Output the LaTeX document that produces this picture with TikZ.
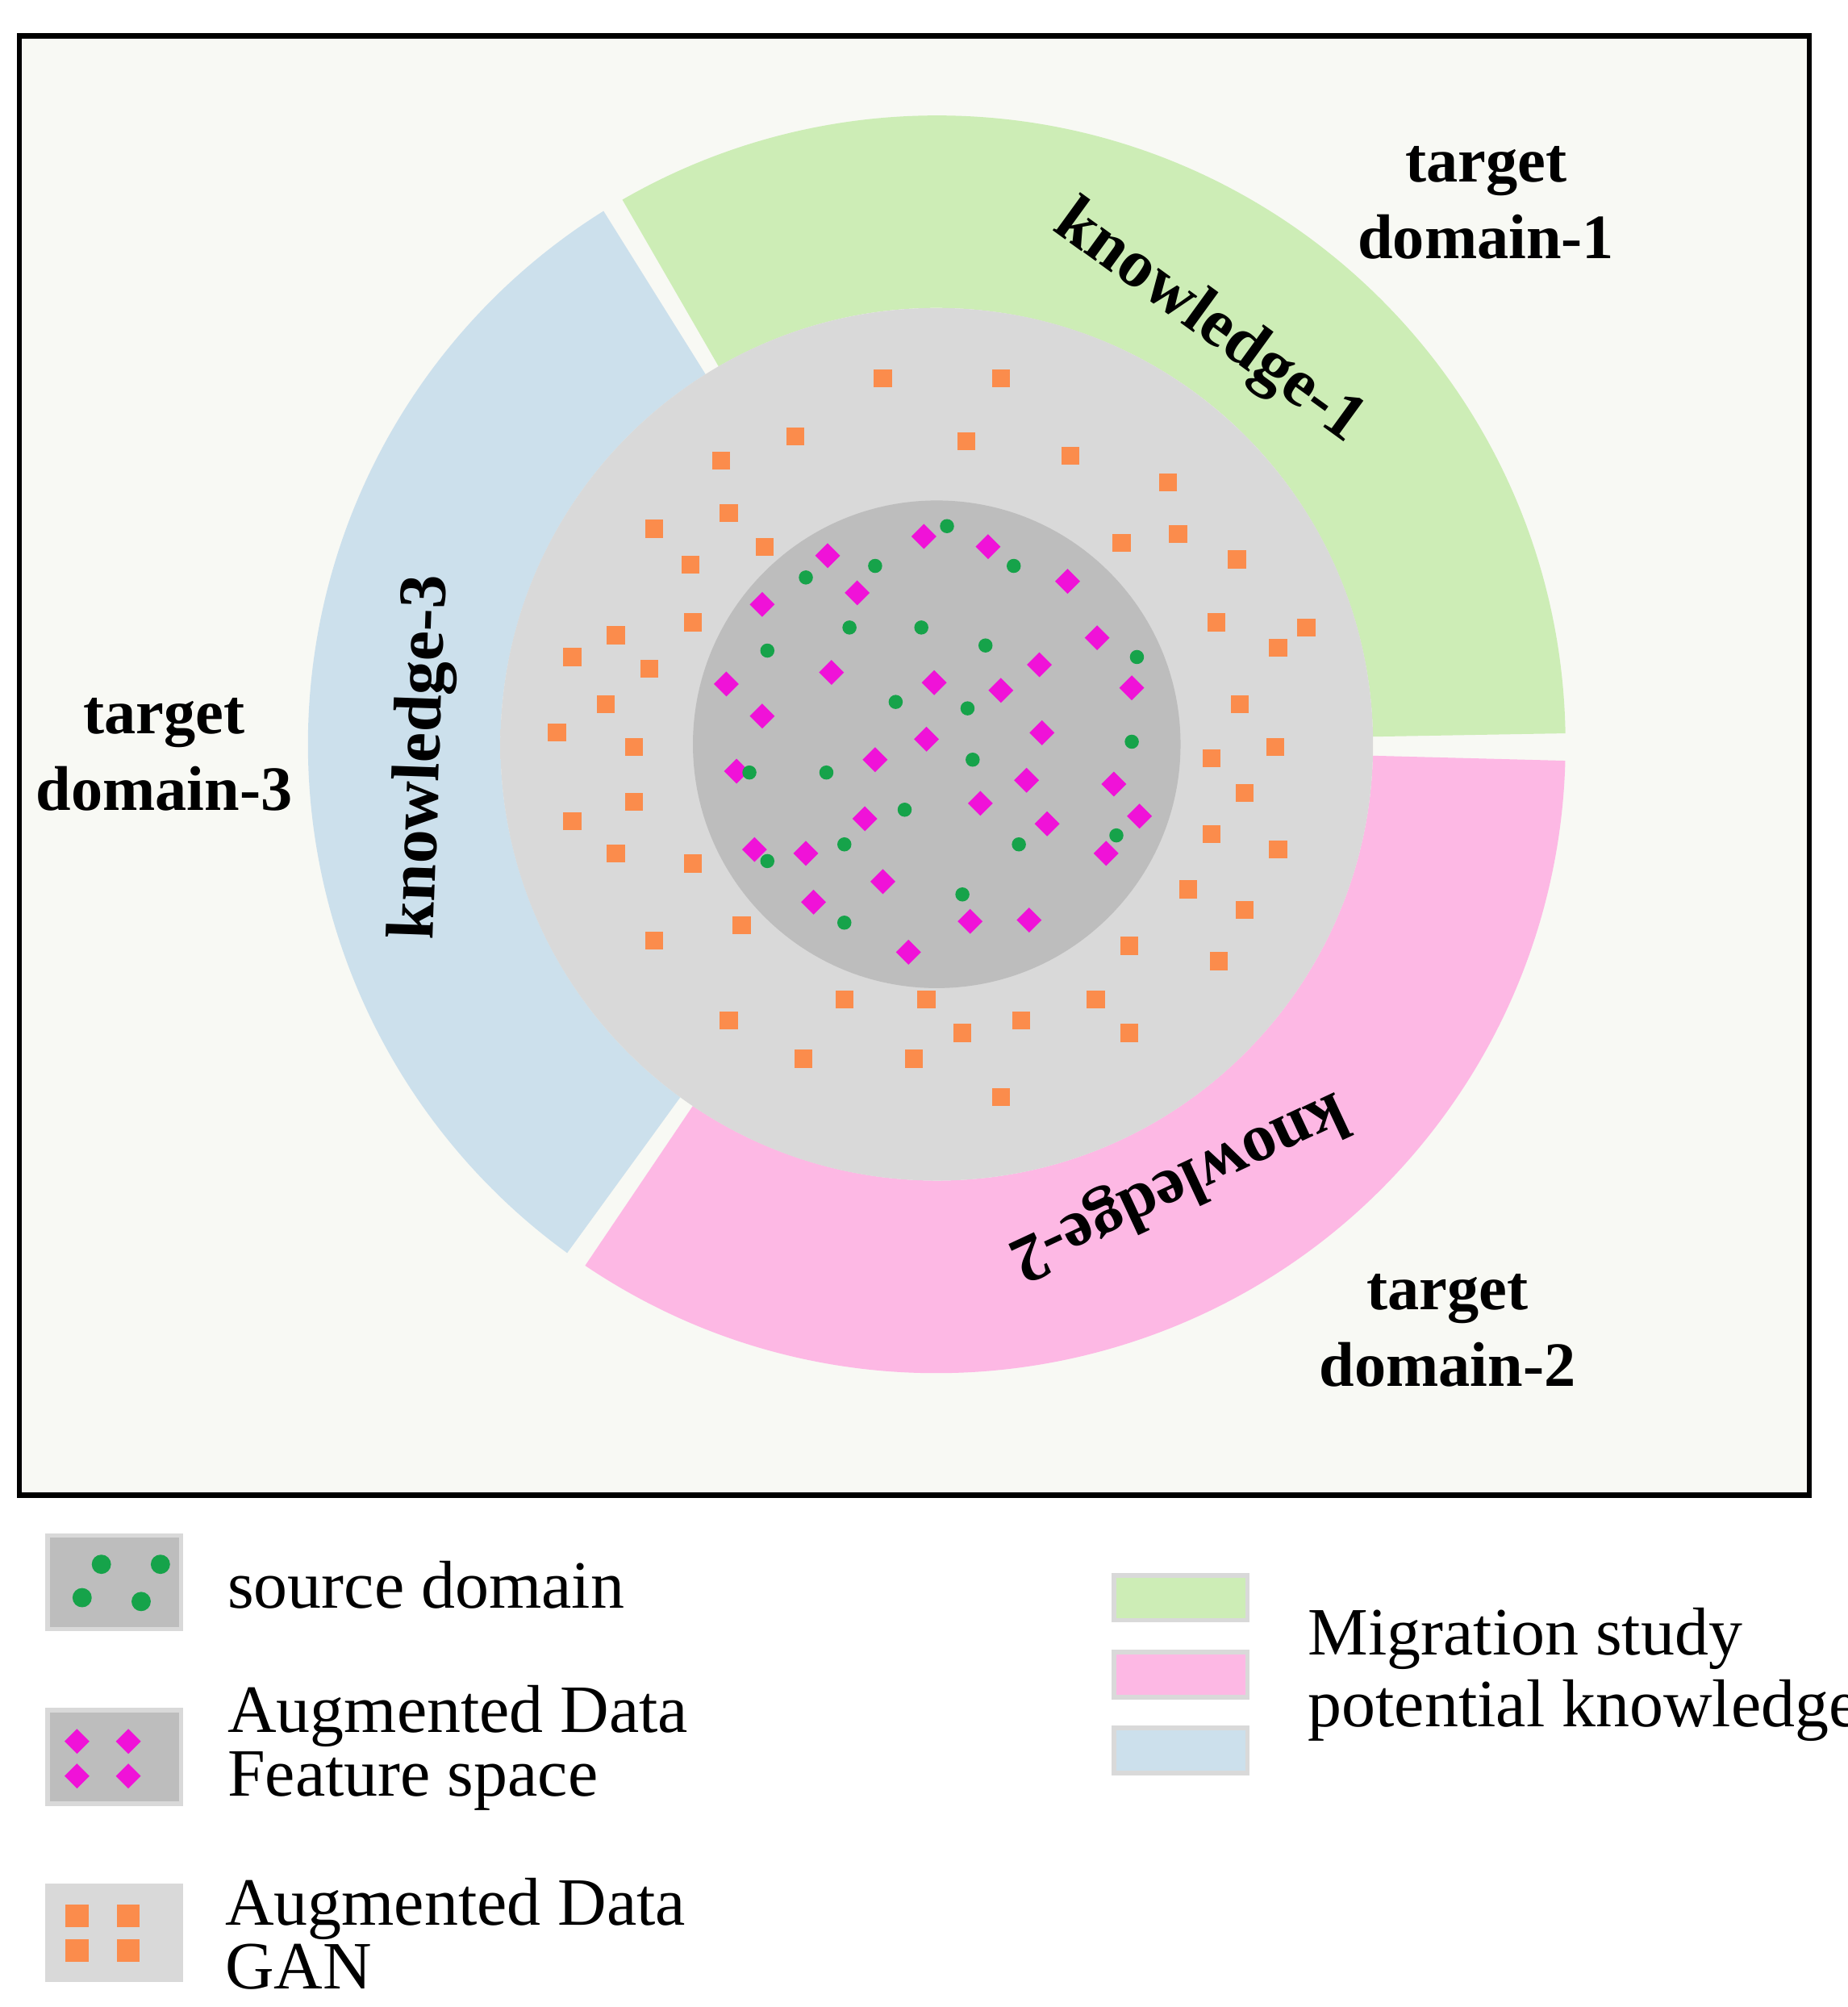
\documentclass[tikz,border=0pt]{standalone}
\usepackage{fontspec}
\setmainfont{Liberation Serif}
\usetikzlibrary{positioning,calc,shapes.geometric}
\definecolor{bgpaper}{HTML}{F8F9F4}
\definecolor{dgray}{HTML}{BDBDBD}
\definecolor{lgray}{HTML}{D9D9D9}
\definecolor{kgreen}{HTML}{CDEDB6}
\definecolor{kpink}{HTML}{FDB8E4}
\definecolor{kblue}{HTML}{CCE0EC}
\definecolor{dotgreen}{HTML}{16A34A}
\definecolor{dmagenta}{HTML}{F012D8}
\definecolor{sorange}{HTML}{FB8C4C}
\pgfdeclareradialshading{softdisk}{\pgfpoint{0bp}{0bp}}{color(0bp)=(lgray); color(43bp)=(lgray); color(47.5bp)=(bgpaper); color(50bp)=(bgpaper)}
\begin{document}
\begin{tikzpicture}[x=0.01cm,y=-0.01cm,
dot/.style={circle,fill=dotgreen,inner sep=0pt,minimum size=0.11cm},
dia/.style={diamond,fill=dmagenta,inner sep=0pt,minimum size=0.2cm},
sq/.style={rectangle,fill=sorange,inner sep=0pt,minimum size=0.14cm},
tlabel/.style={font=\fontsize{14}{17}\selectfont\bfseries,align=center},
klabel/.style={font=\fontsize{15}{18}\selectfont\bfseries},
legtext/.style={font=\fontsize{15}{17}\selectfont,anchor=west,align=left},
legbox/.style={draw=white!85!black,line width=1pt,minimum width=1.04cm,minimum height=0.73cm,inner sep=0pt}
]
\useasboundingbox (0,0) rectangle (1440,1564);
%% frame
\draw[fill=bgpaper,line width=1.2pt] (15,28) rectangle (1410,1165);
\coordinate (c) at (730,580);
%% knowledge ring
\fill[kgreen] (c) ++(-1:490) arc[start angle=-1,end angle=-120,radius=490] -- ($(c)+(-120:340)$) arc[start angle=-120,end angle=-1,radius=340] -- cycle;
\fill[kblue] (c) ++(-122:490) arc[start angle=-122,end angle=-234,radius=490] -- ($(c)+(-234:340)$) arc[start angle=-234,end angle=-122,radius=340] -- cycle;
\fill[kpink] (c) ++(-236:490) arc[start angle=-236,end angle=-358.5,radius=490] -- ($(c)+(-358.5:340)$) arc[start angle=-358.5,end angle=-236,radius=340] -- cycle;
%% data disks
\shade[shading=softdisk] (c) circle[radius=340];
\fill[dgray] (c) circle[radius=190];
%% GAN samples
\foreach \p [count=\i] in {(688,295),(780,295),(620,340),(562,359),(753,344),(834,355),(910,376),(568,400),(510,412),(596,426),(538,440),(874,423),(918,416),(964,436),(540,485),(480,495),(446,512),(506,521),(948,485),(996,505),(1018,489),(472,549),(966,549),(434,571),(494,582),(994,582),(944,591),(970,618),(494,625),(446,640),(944,650),(996,662),(480,665),(540,673),(926,693),(970,709),(510,733),(578,721),(880,737),(950,749),(658,779),(722,779),(854,779),(568,795),(750,805),(796,795),(880,805),(626,825),(712,825),(780,855)}
  \node[sq] (s\i) at \p {};
%% feature space samples
\foreach \p [count=\i] in {(720,418),(770,426),(645,433),(668,462),(832,453),(594,471),(855,497),(648,524),(728,532),(810,518),(780,538),(882,536),(566,533),(594,558),(812,571),(722,576),(682,592),(574,601),(868,611),(800,608),(764,626),(674,638),(888,636),(816,642),(588,662),(628,665),(862,665),(688,687),(634,703),(756,718),(802,717),(708,742)}
  \node[dia] (d\i) at \p {};
%% source samples
\foreach \p [count=\i] in {(738,410),(682,441),(628,450),(790,441),(662,489),(718,489),(768,503),(598,507),(886,512),(698,547),(754,552),(882,578),(584,602),(644,602),(758,592),(705,631),(658,658),(794,658),(870,651),(598,671),(750,697),(658,719)}
  \node[dot] (g\i) at \p {};
%% ring labels
\node[klabel,rotate=-36] (k1) at (942,252) {knowledge-1};
\node[klabel,rotate=-155] (k2) at (918,922) {knowledge-2};
\node[klabel,rotate=88] (k3) at (330,590) {knowledge-3};
\node[tlabel] (t1) at (1158,158) {target\\domain-1};
\node[tlabel] (t2) at (1128,1037) {target\\domain-2};
\node[tlabel] (t3) at (128,588) {target\\domain-3};
%% legend left
\node[legbox,fill=dgray] (b1) at (89,1233) {};
\foreach \dx/\dy [count=\i] in {-10/-14,36/-14,-25/12,21/15} \node[dot,minimum size=0.15cm] (bg\i) at ($(b1)+(\dx,\dy)$) {};
\node[legtext] (l1) at (165,1235) {source domain};
\node[legbox,fill=dgray] (b2) at (89,1369) {};
\foreach \dx/\dy [count=\i] in {-29/-12,11/-12,-29/15,11/15} \node[dia] (bd\i) at ($(b2)+(\dx,\dy)$) {};
\node[legtext] (l2) at (165,1362) {Augmented Data\\[-3pt]Feature space};
\node[legbox,fill=lgray] (b3) at (89,1506) {};
\foreach \dx/\dy [count=\i] in {-29/-13,11/-13,-29/14,11/14} \node[sq,minimum size=0.18cm] (bs\i) at ($(b3)+(\dx,\dy)$) {};
\node[legtext] (l3) at (163,1507) {Augmented Data\\[-3pt]GAN};
%% legend right
\node[legbox,fill=kgreen,minimum height=0.35cm] (r1) at (920,1245) {};
\node[legbox,fill=kpink,minimum height=0.35cm] (r2) at (920,1305) {};
\node[legbox,fill=kblue,minimum height=0.35cm] (r3) at (920,1364) {};
\node[legtext] (l4) at (1007,1305) {Migration study\\[-1pt]potential knowledge};
\end{tikzpicture}
\end{document}
